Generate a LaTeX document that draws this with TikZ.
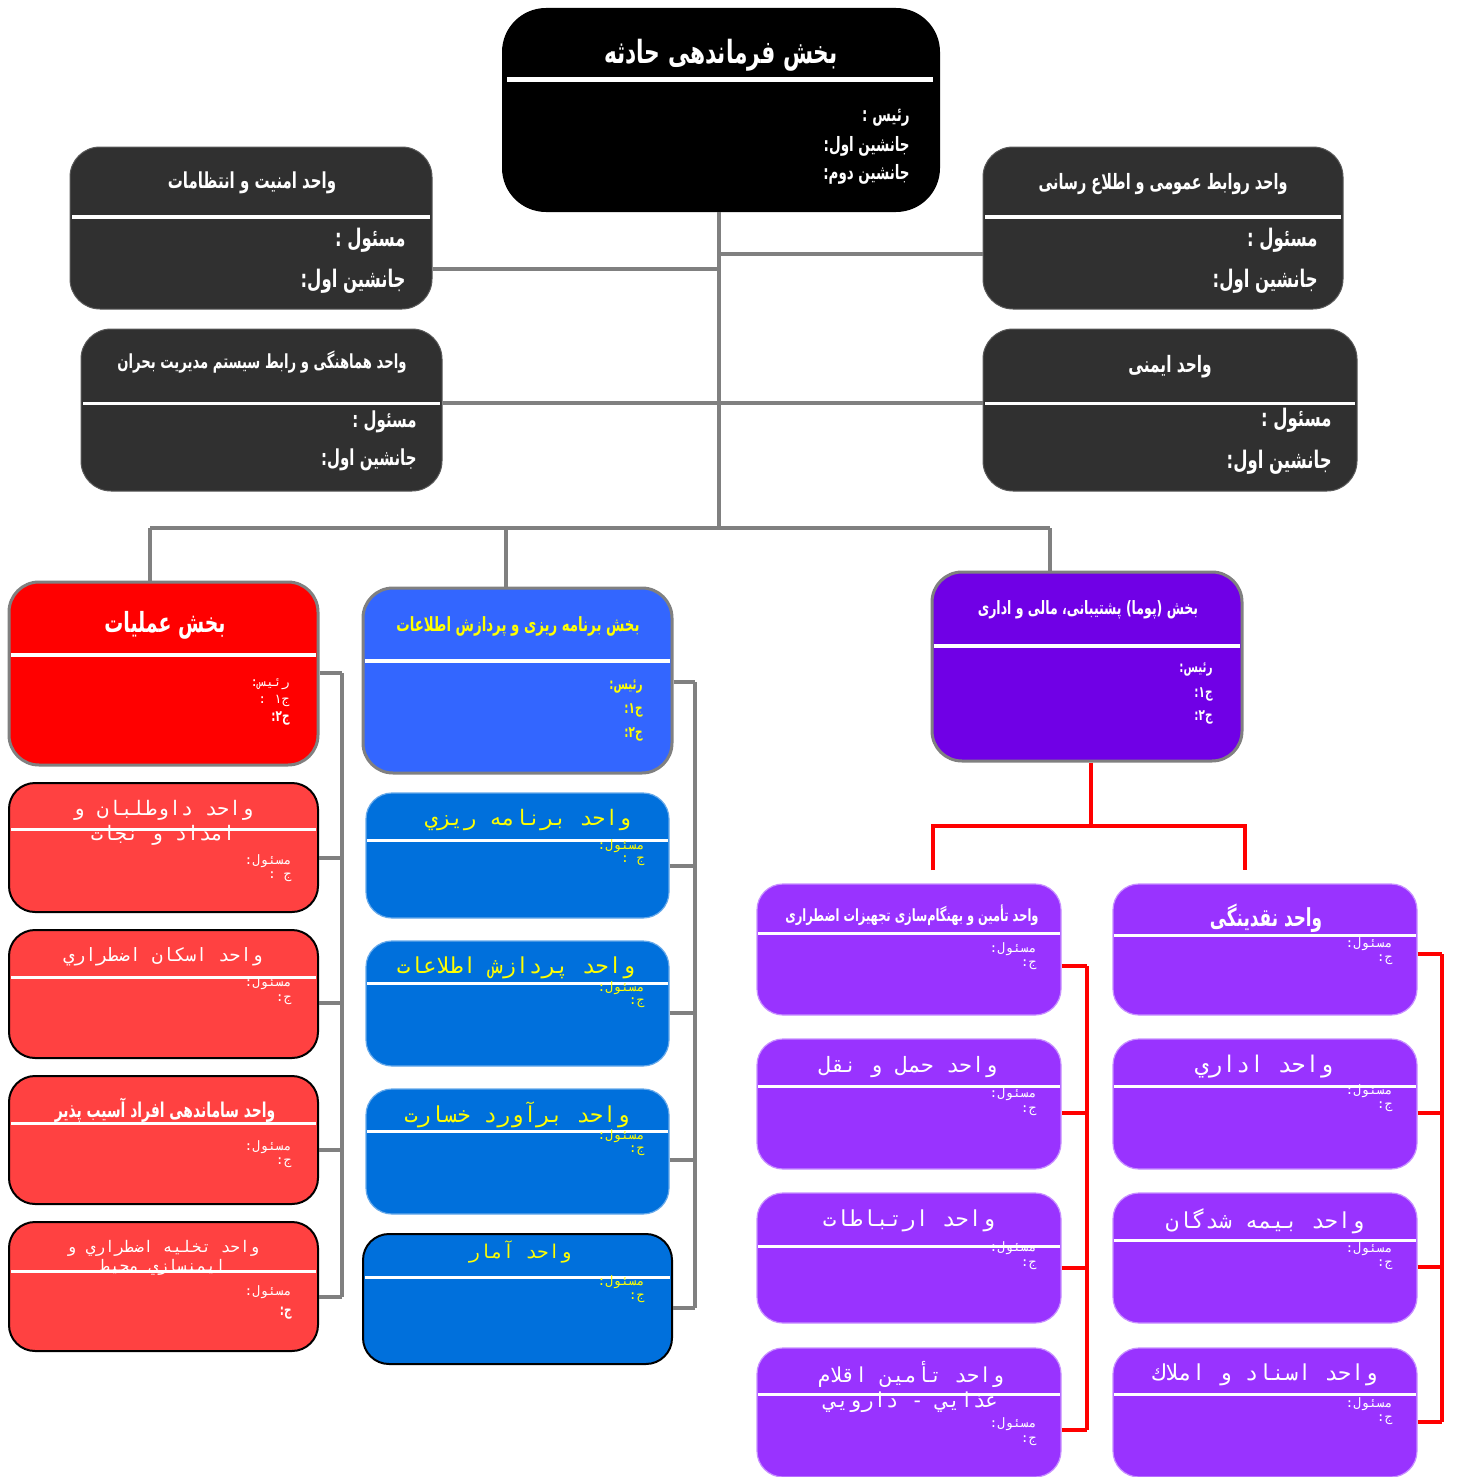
\documentclass[tikz,border=0pt]{standalone}
\usepackage{fontspec}
\usetikzlibrary{fit}
\TeXXeTstate=1
\newfontfamily\farsi[Script=Arabic, FakeStretch=0.68]{DejaVu Sans}
\newfontfamily\farsimono[Script=Arabic]{DejaVu Sans Mono}

\definecolor{darkbox}{HTML}{303030}
\definecolor{linegray}{HTML}{808080}
\definecolor{redhead}{HTML}{FF0000}
\definecolor{redunit}{HTML}{FF4141}
\definecolor{bluehead}{HTML}{3366FF}
\definecolor{blueunit}{HTML}{0070DC}
\definecolor{purplehead}{HTML}{7000E6}
\definecolor{purpleunit}{HTML}{9933FF}
\definecolor{txtyellow}{HTML}{FFFF00}

% a rounded panel spanning two corner points, as a named node
\newcommand{\orgpanel}[6]{%
  \path (#2,#3) coordinate (#1-a) (#4,#5) coordinate (#1-b);
  \node[fit=(#1-a)(#1-b), inner sep=0pt, #6] (#1) {};}

\tikzset{
  gline/.style={draw=linegray, line width=2pt},
  rline/.style={draw=red, line width=2pt},
  sepw/.style={draw=white, line width=1.5pt},
  bt/.style={font=\farsi\bfseries\fontsize{#1}{#1}\selectfont, inner sep=0pt},
  mt/.style={font=\farsimono\fontsize{#1}{#1}\selectfont, inner sep=0pt},
  darkpanel/.style={fill=darkbox, draw=darkbox!80!white, line width=0.5pt, rounded corners=15pt},
  redheadp/.style={fill=redhead, draw=linegray, line width=1.5pt, rounded corners=15pt},
  redunitp/.style={fill=redunit, draw=black, line width=1pt, rounded corners=13pt},
  blueheadp/.style={fill=bluehead, draw=linegray, line width=1.5pt, rounded corners=15pt},
  blueunitp/.style={fill=blueunit, draw=blueunit!60!white, line width=0.6pt, rounded corners=13pt},
  purpleheadp/.style={fill=purplehead, draw=linegray, line width=1.5pt, rounded corners=15pt},
  purpleunitp/.style={fill=purpleunit, draw=purpleunit!55!white, line width=0.6pt, rounded corners=13pt},
}

\begin{document}
\begin{tikzpicture}[x=0.5pt,y=-0.5pt]
\useasboundingbox (0,0) rectangle (1456,1477);
\fill[white] (0,0) rectangle (1456,1477);

%---------------- command section ----------------
\orgpanel{cmd}{502}{8}{940}{212}{fill=black, rounded corners=22pt}
\draw[sepw, line width=2.5pt] (507,80) -- (933,80);
\node[bt=16, text=white] (cmd-t) at (721,55) {\beginR بخش فرماندهی حادثه\endR};
\node[bt=9.9, text=white, anchor=east] (cmd-1) at (910,118) {\beginR رئیس :\endR};
\node[bt=9.9, text=white, anchor=east] (cmd-2) at (910,146) {\beginR جانشین اول:\endR};
\node[bt=9.9, text=white, anchor=east] (cmd-3) at (910,174) {\beginR جانشین دوم:\endR};

%---------------- staff units ----------------
\orgpanel{sec}{70}{147}{432}{309}{darkpanel}
\draw[sepw, line width=2pt] (72,217) -- (430,217);
\node[bt=11, text=white] (sec-t) at (252,183) {\beginR واحد امنیت و انتظامات\endR};
\node[bt=12.1, text=white, anchor=east] (sec-1) at (406,240) {\beginR مسئول :\endR};
\node[bt=12.1, text=white, anchor=east] (sec-2) at (406,281) {\beginR جانشین اول:\endR};

\orgpanel{crd}{81}{329}{442}{491}{darkpanel}
\draw[sepw] (83,403) -- (440,403);
\node[bt=9.7, text=white] (crd-t) at (262,362) {\beginR واحد هماهنگی و رابط سیستم مدیریت بحران\endR};
\node[bt=11, text=white, anchor=east] (crd-1) at (417,422) {\beginR مسئول :\endR};
\node[bt=11, text=white, anchor=east] (crd-2) at (417,460) {\beginR جانشین اول:\endR};

\orgpanel{pr}{983}{147}{1343}{309}{darkpanel}
\draw[sepw, line width=2pt] (985,217) -- (1341,217);
\node[bt=10.6, text=white] (pr-t) at (1163,184) {\beginR واحد روابط عمومی و اطلاع رسانی\endR};
\node[bt=12.1, text=white, anchor=east] (pr-1) at (1318,240) {\beginR مسئول :\endR};
\node[bt=12.1, text=white, anchor=east] (pr-2) at (1318,281) {\beginR جانشین اول:\endR};

\orgpanel{saf}{983}{329}{1357}{491}{darkpanel}
\draw[sepw] (985,403) -- (1355,403);
\node[bt=11.3, text=white] (saf-t) at (1170,367) {\beginR واحد ایمنی\endR};
\node[bt=12.1, text=white, anchor=east] (saf-1) at (1332,420) {\beginR مسئول :\endR};
\node[bt=12.1, text=white, anchor=east] (saf-2) at (1332,462) {\beginR جانشین اول:\endR};

%---------------- operations ----------------
\orgpanel{rh}{9}{582}{318}{765}{redheadp}
\draw[sepw, line width=2pt] (11,655) -- (316,655);
\node[bt=13.9, text=white] (rh-t) at (165,625) {\beginR بخش عملیات\endR};
\node[mt=6.5, text=white, anchor=east] (rh-1) at (290,684) {\beginR رئیس:\endR};
\node[mt=6.5, text=white, anchor=east] (rh-2) at (290,701) {\beginR ج۱ :\endR};
\node[bt=7.7, text=white, anchor=east] (rh-3) at (290,718) {\beginR ج۲:\endR};

\orgpanel{r1}{9}{783}{318}{912}{redunitp}
\draw[sepw] (11,829) -- (316,829);
\node[mt=10, text=white, align=center] (r1-t) at (163,823) {\beginR واحد داوطلبان و\endR\\[1.5pt]\beginR امداد و نجات\endR};
\node[mt=6.5, text=white, anchor=east] (r1-1) at (292,861) {\beginR مسئول:\endR};
\node[mt=6.5, text=white, anchor=east] (r1-2) at (292,877) {\beginR ج :\endR};

\orgpanel{r2}{9}{930}{318}{1058}{redunitp}
\draw[sepw] (11,977) -- (316,977);
\node[mt=9.2, text=white] (r2-t) at (163,957) {\beginR واحد اسکان اضطراري\endR};
\node[mt=6.5, text=white, anchor=east] (r2-1) at (292,983) {\beginR مسئول:\endR};
\node[mt=6.5, text=white, anchor=east] (r2-2) at (292,1000) {\beginR ج:\endR};

\orgpanel{r3}{9}{1076}{318}{1204}{redunitp}
\draw[sepw] (11,1123) -- (316,1123);
\node[bt=10.2, text=white] (r3-t) at (165,1110) {\beginR واحد ساماندهی افراد آسیب پذیر\endR};
\node[mt=6.5, text=white, anchor=east] (r3-1) at (292,1147) {\beginR مسئول:\endR};
\node[mt=6.5, text=white, anchor=east] (r3-2) at (292,1163) {\beginR ج:\endR};

\orgpanel{r4}{9}{1222}{318}{1351}{redunitp}
\draw[sepw] (11,1271) -- (316,1271);
\node[mt=8, text=white, align=center] (r4-t) at (163,1258) {\beginR واحد تخلیه اضطراري و\endR\\[0.5pt]\beginR ایمنسازي محیط\endR};
\node[mt=6.5, text=white, anchor=east] (r4-1) at (292,1292) {\beginR مسئول:\endR};
\node[bt=7.7, text=white, anchor=east] (r4-2) at (292,1313) {\beginR ج:\endR};

%---------------- planning ----------------
\orgpanel{bh}{363}{588}{672}{773}{blueheadp}
\draw[sepw, line width=2pt] (365,661) -- (670,661);
\node[bt=9.8, text=txtyellow] (bh-t) at (518,626) {\beginR بخش برنامه ریزی و پردازش اطلاعات\endR};
\node[bt=7.7, text=txtyellow, anchor=east] (bh-1) at (643,687) {\beginR رئیس:\endR};
\node[bt=7.7, text=txtyellow, anchor=east] (bh-2) at (643,710) {\beginR ج۱:\endR};
\node[bt=7.7, text=txtyellow, anchor=east] (bh-3) at (643,734) {\beginR ج۲:\endR};

\orgpanel{b1}{366}{793}{669}{918}{blueunitp}
\draw[sepw] (367,840) -- (668,840);
\node[mt=10.7, text=txtyellow] (b1-t) at (528,820) {\beginR واحد برنامه ريزي\endR};
\node[mt=6.5, text=txtyellow, anchor=east] (b1-1) at (645,846) {\beginR مسئول:\endR};
\node[mt=6.5, text=txtyellow, anchor=east] (b1-2) at (645,861) {\beginR ج :\endR};

\orgpanel{b2}{366}{941}{669}{1066}{blueunitp}
\draw[sepw] (367,983) -- (668,983);
\node[mt=11, text=txtyellow] (b2-t) at (516,968) {\beginR واحد پردازش اطلاعات\endR};
\node[mt=6.5, text=txtyellow, anchor=east] (b2-1) at (645,988) {\beginR مسئول:\endR};
\node[mt=6.5, text=txtyellow, anchor=east] (b2-2) at (645,1003) {\beginR ج:\endR};

\orgpanel{b3}{366}{1089}{669}{1214}{blueunitp}
\draw[sepw] (367,1131) -- (668,1131);
\node[mt=11, text=txtyellow] (b3-t) at (517,1115) {\beginR واحد برآورد خسارت\endR};
\node[mt=6.5, text=txtyellow, anchor=east] (b3-1) at (645,1136) {\beginR مسئول:\endR};
\node[mt=6.5, text=txtyellow, anchor=east] (b3-2) at (645,1151) {\beginR ج:\endR};

\orgpanel{b4}{363}{1234}{672}{1364}{blueunitp, draw=black, line width=1pt}
\draw[sepw] (365,1277) -- (670,1277);
\node[mt=9.5, text=txtyellow] (b4-t) at (520,1252) {\beginR واحد آمار\endR};
\node[mt=6.5, text=txtyellow, anchor=east] (b4-1) at (645,1282) {\beginR مسئول:\endR};
\node[mt=6.5, text=txtyellow, anchor=east] (b4-2) at (645,1298) {\beginR ج:\endR};

%---------------- logistics, finance and administration ----------------
\orgpanel{ph}{932}{572}{1242}{761}{purpleheadp}
\draw[sepw, line width=2pt] (934,646) -- (1240,646);
\node[bt=9.2, text=white] (ph-t) at (1088,610) {\beginR بخش (پوما) پشتیبانی، مالی و اداری\endR};
\node[bt=7.7, text=white, anchor=east] (ph-1) at (1213,670) {\beginR رئیس:\endR};
\node[bt=7.7, text=white, anchor=east] (ph-2) at (1213,694) {\beginR ج۱:\endR};
\node[bt=7.7, text=white, anchor=east] (ph-3) at (1213,717) {\beginR ج۲:\endR};

% left column
\orgpanel{pl1}{757}{884}{1061}{1015}{purpleunitp}
\draw[sepw] (758,933) -- (1060,933);
\node[bt=8.4, text=white] (pl1-t) at (912,915) {\beginR واحد تأمین و بهنگام‌سازی تجهیزات اضطراری\endR};
\node[mt=6.5, text=white, anchor=east] (pl1-1) at (1037,949) {\beginR مسئول:\endR};
\node[mt=6.5, text=white, anchor=east] (pl1-2) at (1037,965) {\beginR ج:\endR};

\orgpanel{pl2}{757}{1039}{1061}{1169}{purpleunitp}
\draw[sepw] (758,1086) -- (1060,1086);
\node[mt=10.6, text=white] (pl2-t) at (908,1067) {\beginR واحد حمل و نقل\endR};
\node[mt=6.5, text=white, anchor=east] (pl2-1) at (1037,1094) {\beginR مسئول:\endR};
\node[mt=6.5, text=white, anchor=east] (pl2-2) at (1037,1111) {\beginR ج:\endR};

\orgpanel{pl3}{757}{1193}{1061}{1323}{purpleunitp}
\draw[sepw] (758,1246) -- (1060,1246);
\node[mt=11, text=white] (pl3-t) at (909,1221) {\beginR واحد ارتباطات\endR};
\node[mt=6.5, text=white, anchor=east] (pl3-1) at (1037,1248) {\beginR مسئول:\endR};
\node[mt=6.5, text=white, anchor=east] (pl3-2) at (1037,1265) {\beginR ج:\endR};

\orgpanel{pl4}{757}{1348}{1061}{1477}{purpleunitp}
\draw[sepw] (758,1394) -- (1060,1394);
\node[mt=10.3, text=white, align=center] (pl4-t) at (911,1387) {\beginR واحد تأمین اقلام\endR\\[1.5pt]\beginR غذايي - دارويي\endR};
\node[mt=6.5, text=white, anchor=east] (pl4-1) at (1037,1424) {\beginR مسئول:\endR};
\node[mt=6.5, text=white, anchor=east] (pl4-2) at (1037,1441) {\beginR ج:\endR};

% right column
\orgpanel{pr1}{1113}{884}{1417}{1015}{purpleunitp}
\draw[sepw] (1114,935) -- (1416,935);
\node[bt=12.4, text=white] (pr1-t) at (1266,918) {\beginR واحد نقدینگی\endR};
\node[mt=6.5, text=white, anchor=east] (pr1-1) at (1393,944) {\beginR مسئول:\endR};
\node[mt=6.5, text=white, anchor=east] (pr1-2) at (1393,960) {\beginR ج:\endR};

\orgpanel{pr2}{1113}{1039}{1417}{1169}{purpleunitp}
\draw[sepw] (1114,1086) -- (1416,1086);
\node[mt=11.5, text=white] (pr2-t) at (1264,1067) {\beginR واحد اداري\endR};
\node[mt=6.5, text=white, anchor=east] (pr2-1) at (1393,1091) {\beginR مسئول:\endR};
\node[mt=6.5, text=white, anchor=east] (pr2-2) at (1393,1107) {\beginR ج:\endR};

\orgpanel{pr3}{1113}{1193}{1417}{1323}{purpleunitp}
\draw[sepw] (1114,1240) -- (1416,1240);
\node[mt=11, text=white] (pr3-t) at (1265,1221) {\beginR واحد بیمه شدگان\endR};
\node[mt=6.5, text=white, anchor=east] (pr3-1) at (1393,1249) {\beginR مسئول:\endR};
\node[mt=6.5, text=white, anchor=east] (pr3-2) at (1393,1265) {\beginR ج:\endR};

\orgpanel{pr4}{1113}{1348}{1417}{1477}{purpleunitp}
\draw[sepw] (1114,1394) -- (1416,1394);
\node[mt=11, text=white] (pr4-t) at (1265,1375) {\beginR واحد اسناد و املاك\endR};
\node[mt=6.5, text=white, anchor=east] (pr4-1) at (1393,1404) {\beginR مسئول:\endR};
\node[mt=6.5, text=white, anchor=east] (pr4-2) at (1393,1420) {\beginR ج:\endR};

%---------------- gray connectors ----------------
\coordinate (hub) at (719,528);
\coordinate (j1) at (719,269);
\coordinate (j2) at (719,254);
\coordinate (j3) at (719,403);
\coordinate (busL) at (150,528);
\coordinate (busM) at (506,528);
\coordinate (busR) at (1050,528);
\draw[gline] (cmd.south -| hub) -- (hub);
\draw[gline] (sec.east |- j1) -- (j1);
\draw[gline] (j2) -- (pr.west |- j2);
\draw[gline] (crd.east |- j3) -- (saf.west |- j3);
\draw[gline] (busL) -- (busR);
\draw[gline] (busL) -- (busL |- rh.north);
\draw[gline] (busM) -- (busM |- bh.north);
\draw[gline] (busR) -- (busR |- ph.north);

% operations bus
\coordinate (rb0) at (342,673);
\coordinate (rb1) at (342,858);
\coordinate (rb2) at (342,1003);
\coordinate (rb3) at (342,1150);
\coordinate (rb4) at (342,1297);
\draw[gline] (rb0) -- (rb4);
\draw[gline] (rh.east |- rb0) -- (rb0);
\draw[gline] (r1.east |- rb1) -- (rb1);
\draw[gline] (r2.east |- rb2) -- (rb2);
\draw[gline] (r3.east |- rb3) -- (rb3);
\draw[gline] (r4.east |- rb4) -- (rb4);

% planning bus
\coordinate (bb0) at (695,682);
\coordinate (bb1) at (695,866);
\coordinate (bb2) at (695,1013);
\coordinate (bb3) at (695,1160);
\coordinate (bb4) at (695,1308);
\draw[gline] (bb0) -- (bb4);
\draw[gline] (bh.east |- bb0) -- (bb0);
\draw[gline] (b1.east |- bb1) -- (bb1);
\draw[gline] (b2.east |- bb2) -- (bb2);
\draw[gline] (b3.east |- bb3) -- (bb3);
\draw[gline] (b4.east |- bb4) -- (bb4);

%---------------- red connectors ----------------
\coordinate (pj) at (1091,826);
\coordinate (pjL) at (933,826);
\coordinate (pjR) at (1245,826);
\coordinate (pdL) at (933,870);
\coordinate (pdR) at (1245,870);
\draw[rline] (ph.south -| pj) -- (pj);
\draw[rline] (pdL) -- (pjL) -- (pjR) -- (pdR);

\coordinate (lb1) at (1087,966);
\coordinate (lb2) at (1087,1113);
\coordinate (lb3) at (1087,1268);
\coordinate (lb4) at (1087,1430);
\draw[rline] (lb1) -- (lb4);
\draw[rline] (pl1.east |- lb1) -- (lb1);
\draw[rline] (pl2.east |- lb2) -- (lb2);
\draw[rline] (pl3.east |- lb3) -- (lb3);
\draw[rline] (pl4.east |- lb4) -- (lb4);

\coordinate (qb1) at (1442,954);
\coordinate (qb2) at (1442,1113);
\coordinate (qb3) at (1442,1267);
\coordinate (qb4) at (1442,1422);
\draw[rline] (qb1) -- (qb4);
\draw[rline] (pr1.east |- qb1) -- (qb1);
\draw[rline] (pr2.east |- qb2) -- (qb2);
\draw[rline] (pr3.east |- qb3) -- (qb3);
\draw[rline] (pr4.east |- qb4) -- (qb4);
\end{tikzpicture}
\end{document}
